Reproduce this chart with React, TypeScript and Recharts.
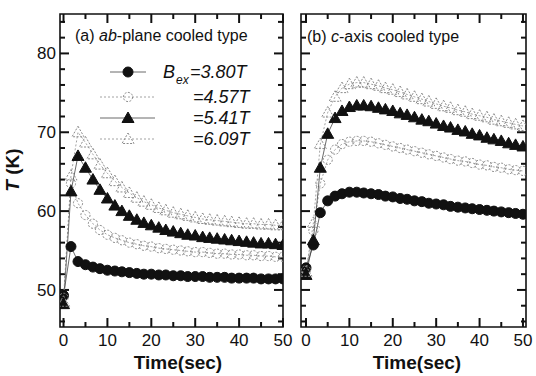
import { LineChart, Line, XAxis, YAxis, ReferenceArea, ReferenceLine } from "recharts"

// sample times (s)
const time = [0, 1.7, 3.3, 5, 6.7, 8.3, 10, 11.7, 13.3, 15, 16.7, 18.3, 20, 21.7, 23.3, 25, 26.7, 28.3, 30, 31.7, 33.3, 35, 36.7, 38.3, 40, 41.7, 43.3, 45, 46.7, 48.3, 50]

// (a) ab-plane cooled type, T (K)
const abB380 = [49.3, 55.5, 53.6, 53.2, 52.9, 52.7, 52.5, 52.4, 52.3, 52.2, 52.1, 52.0, 52.0, 51.9, 51.9, 51.8, 51.8, 51.7, 51.7, 51.7, 51.6, 51.6, 51.6, 51.5, 51.5, 51.5, 51.5, 51.4, 51.4, 51.4, 51.4]
const abB457 = [49.0, 63.5, 61.0, 59.5, 58.4, 57.6, 57.0, 56.6, 56.3, 56.0, 55.8, 55.6, 55.5, 55.3, 55.2, 55.1, 55.0, 54.9, 54.8, 54.8, 54.7, 54.6, 54.6, 54.5, 54.5, 54.4, 54.4, 54.3, 54.3, 54.2, 54.2]
const abB541 = [48.2, 62.5, 67.0, 65.5, 64.0, 62.7, 61.6, 60.7, 60.0, 59.4, 58.9, 58.5, 58.2, 57.9, 57.6, 57.4, 57.2, 57.0, 56.9, 56.7, 56.6, 56.5, 56.4, 56.3, 56.2, 56.1, 56.0, 55.9, 55.9, 55.8, 55.7]
const abB609 = [48.5, 64.5, 70.0, 68.7, 67.2, 65.9, 64.8, 63.8, 63.0, 62.3, 61.7, 61.2, 60.8, 60.4, 60.1, 59.8, 59.6, 59.4, 59.2, 59.0, 58.9, 58.8, 58.7, 58.6, 58.5, 58.4, 58.4, 58.3, 58.3, 58.2, 58.2]

// (b) c-axis cooled type, T (K)
const cB380 = [52.8, 55.7, 59.8, 61.3, 61.9, 62.2, 62.4, 62.4, 62.3, 62.2, 62.1, 61.9, 61.8, 61.6, 61.5, 61.3, 61.2, 61.0, 60.9, 60.8, 60.6, 60.5, 60.4, 60.3, 60.2, 60.1, 60.0, 59.9, 59.8, 59.7, 59.6]
const cB457 = [52.5, 57.5, 63.5, 66.5, 67.8, 68.5, 68.8, 68.9, 68.9, 68.8, 68.6, 68.4, 68.2, 68.0, 67.8, 67.6, 67.4, 67.2, 67.0, 66.8, 66.6, 66.4, 66.3, 66.1, 65.9, 65.8, 65.6, 65.5, 65.3, 65.2, 65.1]
const cB541 = [51.9, 56.3, 65.5, 69.8, 71.8, 72.7, 73.2, 73.4, 73.4, 73.3, 73.1, 72.9, 72.7, 72.4, 72.2, 71.9, 71.6, 71.4, 71.1, 70.8, 70.6, 70.3, 70.1, 69.8, 69.6, 69.3, 69.1, 68.9, 68.6, 68.4, 68.2]
const cB609 = [52.3, 58.5, 68.5, 72.5, 74.5, 75.6, 76.1, 76.3, 76.3, 76.1, 75.9, 75.6, 75.4, 75.1, 74.8, 74.5, 74.2, 73.9, 73.6, 73.3, 73.1, 72.8, 72.6, 72.3, 72.1, 71.9, 71.6, 71.4, 71.2, 71.0, 70.8]

const fieldLabels = ["=3.80T", "=4.57T", "=5.41T", "=6.09T"]
const xLabels = [0, 10, 20, 30, 40, 50]
const xTicks = [0, 5, 10, 15, 20, 25, 30, 35, 40, 45, 50]
const yLabels = [50, 60, 70, 80]
const yTicks = [46, 48, 50, 52, 54, 56, 58, 60, 62, 64, 66, 68, 70, 72, 74, 76, 78, 80, 82, 84]

const FONT = '"Liberation Sans", Arial, sans-serif'
const INK = "#111"
const GREY = "#8a8a8a"
const Y_DOMAIN = [45.3, 85]

const toRows = (series: number[][]) =>
    time.map((t, i) => ({ t, s0: series[0][i], s1: series[1][i], s2: series[2][i], s3: series[3][i] }))

const panelA = toRows([abB380, abB457, abB541, abB609])
const panelB = toRows([cB380, cB457, cB541, cB609])

type Marker = { shape: "circle" | "triangle"; filled: boolean }
const markers: Marker[] = [
    { shape: "circle", filled: true },
    { shape: "circle", filled: false },
    { shape: "triangle", filled: true },
    { shape: "triangle", filled: false },
]

function drawMarker(m: Marker, cx: number, cy: number, key?: string) {
    const fill = m.filled ? INK : "none"
    const stroke = m.filled ? INK : GREY
    const dash = m.filled ? undefined : "2 1.5"
    if (m.shape === "circle") {
        return <circle key={key} cx={cx} cy={cy} r={m.filled ? 5 : 4.6} fill={fill} stroke={stroke} strokeWidth={1} strokeDasharray={dash} />
    }
    const d = `M${cx},${cy - 6} L${cx + 6},${cy + 4.5} L${cx - 6},${cy + 4.5} Z`
    return <path key={key} d={d} fill={fill} stroke={stroke} strokeWidth={1} strokeDasharray={dash} />
}

const XLabel = (p: any) => (
    <text x={p.x} y={p.y + 19} textAnchor="middle" fontSize={17} fontFamily={FONT} fill={INK}>
        {p.payload.value}
    </text>
)

const YLabel = (p: any) => (
    <text x={p.x - 4} y={p.y + 6} textAnchor="end" fontSize={17} fontFamily={FONT} fill={INK}>
        {p.payload.value}
    </text>
)

// inward tick marks at both ends of a reference line spanning the plot
const TICK_W = 2
const tickShape = (len: number) => (p: any) => {
    const { x1, y1, x2, y2 } = p
    if (x1 === x2) {
        const top = Math.min(y1, y2)
        const bot = Math.max(y1, y2)
        return (
            <g>
                <line x1={x1} y1={bot} x2={x1} y2={bot - len} stroke={INK} strokeWidth={TICK_W} />
                <line x1={x1} y1={top} x2={x1} y2={top + len} stroke={INK} strokeWidth={TICK_W} />
            </g>
        )
    }
    const l = Math.min(x1, x2)
    const r = Math.max(x1, x2)
    return (
        <g>
            <line x1={l} y1={y1} x2={l + len} y2={y1} stroke={INK} strokeWidth={TICK_W} />
            <line x1={r} y1={y1} x2={r - len} y2={y1} stroke={INK} strokeWidth={TICK_W} />
        </g>
    )
}
const majorShape = tickShape(9)
const minorShape = tickShape(5)

function Panel({ data, xDomain, width, left, yWidth, right, labels }: any) {
    return (
        <div style={{ position: "absolute", left, top: 0 }}>
            <LineChart width={width} height={376} data={data} margin={{ top: 14, right, bottom: 0, left: 0 }}>
                <XAxis xAxisId="x" type="number" dataKey="t" domain={xDomain} allowDataOverflow ticks={xLabels} interval={0}
                    tickSize={0} tickMargin={0} tickLine={false} height={49} tick={XLabel} axisLine={false} />
                <YAxis yAxisId="y" type="number" domain={Y_DOMAIN} allowDataOverflow ticks={yLabels} interval={0}
                    tickSize={0} tickMargin={0} tickLine={false} width={yWidth} tick={labels ? YLabel : false} axisLine={false} />
                {xTicks.map((v) => (
                    <ReferenceLine key={`xt${v}`} xAxisId="x" yAxisId="y" x={v} ifOverflow="visible"
                        shape={v % 10 === 0 ? majorShape : minorShape} />
                ))}
                {yTicks.map((v) => (
                    <ReferenceLine key={`yt${v}`} xAxisId="x" yAxisId="y" y={v} ifOverflow="visible"
                        shape={v % 10 === 0 ? majorShape : minorShape} />
                ))}
                <ReferenceArea xAxisId="x" yAxisId="y" x1={xDomain[0]} x2={xDomain[1]} y1={Y_DOMAIN[0]} y2={Y_DOMAIN[1]}
                    fill="none" fillOpacity={0} stroke={INK} strokeWidth={1.6} ifOverflow="visible" />
                {markers.map((m, i) => (
                    <Line
                        key={i}
                        xAxisId="x"
                        yAxisId="y"
                        dataKey={`s${i}`}
                        type="linear"
                        stroke={m.filled ? "#444" : GREY}
                        strokeWidth={0.8}
                        strokeDasharray={m.filled ? undefined : "2 2"}
                        isAnimationActive={false}
                        dot={(d: any) => drawMarker(m, d.cx, d.cy, `d${i}-${d.index}`)}
                        activeDot={false}
                    />
                ))}
            </LineChart>
        </div>
    )
}

const legendRows = [72, 97, 118, 139]

export default function App() {
    return (
        <div style={{ position: "absolute", left: 0, top: 0, width: 536, height: 376, background: "#fff" }}>
            <Panel data={panelA} xDomain={[-0.8, 50]} width={300} left={0} yWidth={60} right={17} labels />
            <Panel data={panelB} xDomain={[-1.15, 50.7]} width={246} left={290} yWidth={11} right={10} labels={false} />
            <svg width={536} height={376} style={{ position: "absolute", left: 0, top: 0, pointerEvents: "none" }}
                fontFamily={FONT} fill={INK}>
                <text x={75} y={41} fontSize={16}>
                    (a) <tspan fontStyle="italic">ab</tspan>-plane cooled type
                </text>
                <text x={307} y={42} fontSize={16}>
                    (b) <tspan fontStyle="italic">c</tspan>-axis cooled type
                </text>
                <text x={178} y={369} fontSize={19} fontWeight="bold" textAnchor="middle">Time(sec)</text>
                <text x={417} y={369} fontSize={19} fontWeight="bold" textAnchor="middle">Time(sec)</text>
                <text transform="translate(19,170) rotate(-90)" fontSize={19} fontWeight="bold" textAnchor="middle">
                    <tspan fontStyle="italic">T</tspan> (K)
                </text>
                {markers.map((m, i) => {
                    const y = legendRows[i]
                    return (
                        <g key={i}>
                            <line x1={i === 0 ? 110 : 100} y1={y} x2={i === 0 ? 146 : 155} y2={y}
                                stroke={m.filled ? "#444" : GREY} strokeWidth={0.8} strokeDasharray={m.filled ? undefined : "2 2"} />
                            {drawMarker(m, 128, y)}
                            {i === 0 && (
                                <>
                                    <text x={163} y={y + 6} fontSize={18} fontStyle="italic">B</text>
                                    <text x={176} y={y + 12} fontSize={12} fontStyle="italic">ex</text>
                                </>
                            )}
                            <text x={i === 0 ? 190 : 193} y={y + 6} fontSize={18} fontStyle="italic">{fieldLabels[i]}</text>
                        </g>
                    )
                })}
            </svg>
        </div>
    )
}
